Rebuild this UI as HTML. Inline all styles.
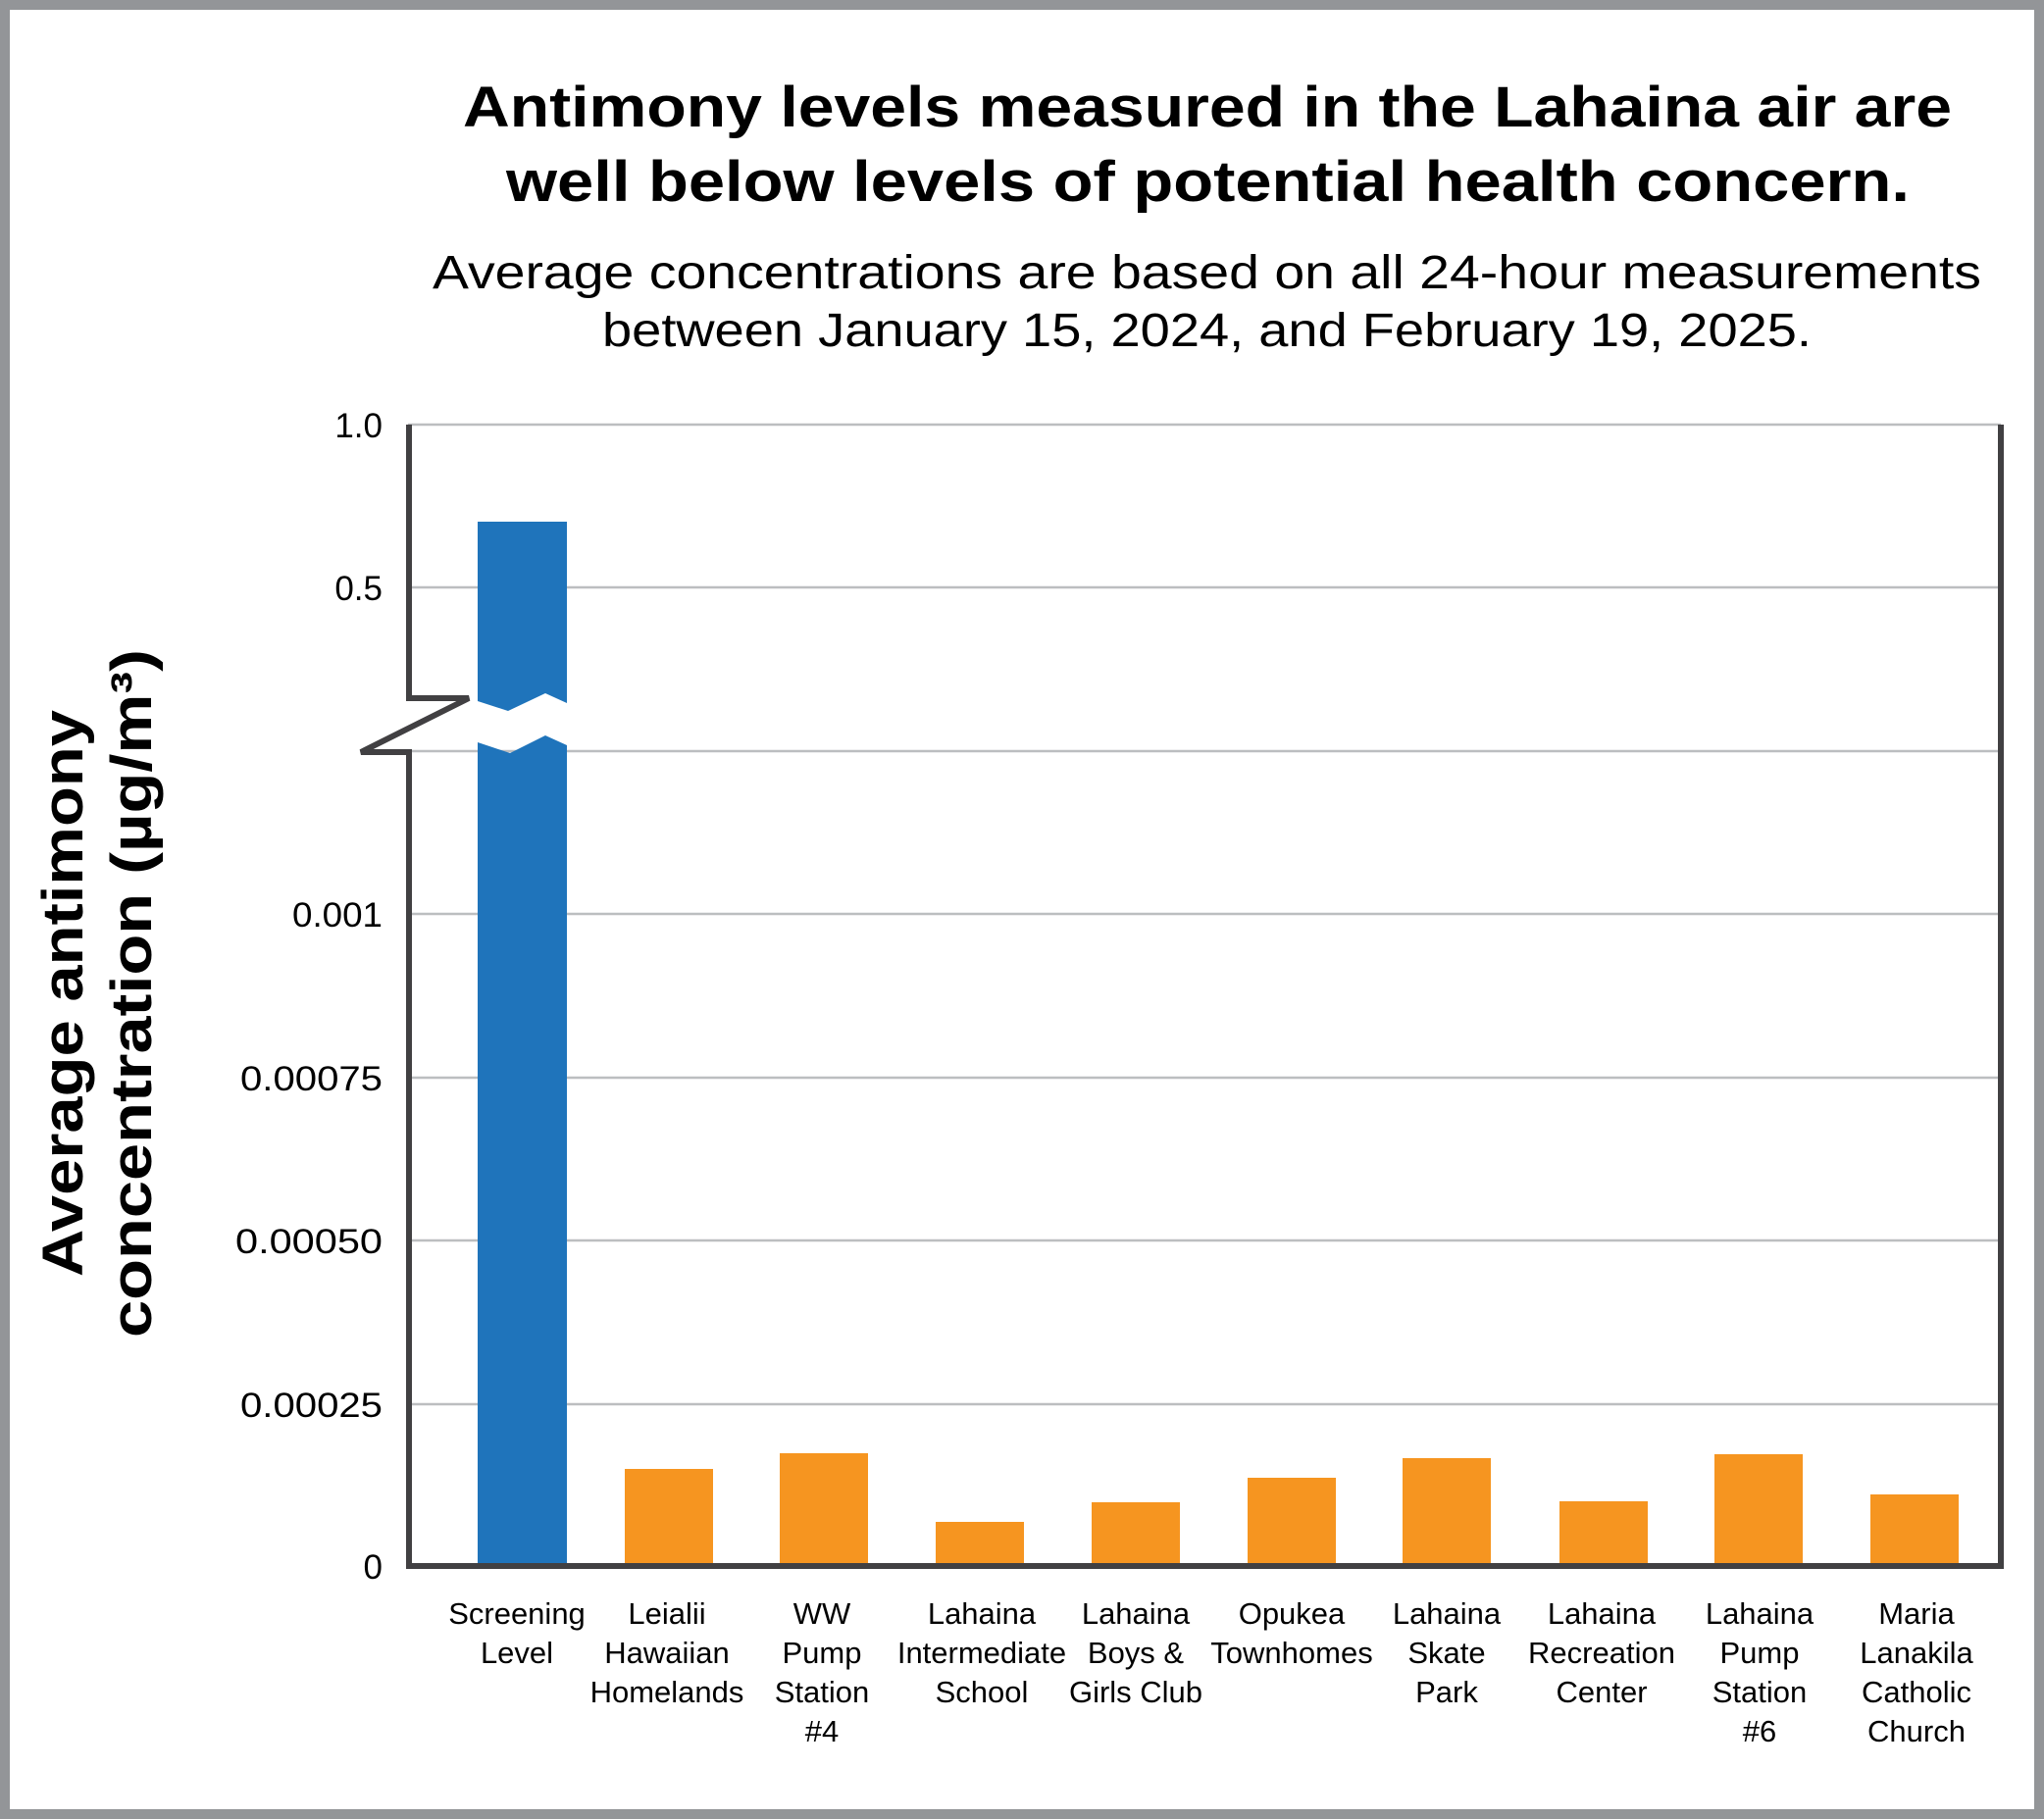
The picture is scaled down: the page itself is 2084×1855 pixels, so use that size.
<!DOCTYPE html>
<html><head><meta charset="utf-8"><style>
html,body{margin:0;padding:0;background:#fff}
svg{display:block}
text{font-family:"Liberation Sans",sans-serif;fill:#000}
</style></head><body>
<svg width="2084" height="1855" viewBox="0 0 2084 1855" xmlns="http://www.w3.org/2000/svg">
<rect x="0" y="0" width="2084" height="1855" fill="#fff"/>
<rect x="5" y="5" width="2074" height="1845" fill="none" stroke="#939598" stroke-width="10"/>
<g font-weight="bold" font-size="58" text-anchor="start">
<text x="472" y="129" textLength="1518" lengthAdjust="spacingAndGlyphs">Antimony levels measured in the Lahaina air are</text>
<text x="516" y="205" textLength="1431" lengthAdjust="spacingAndGlyphs">well below levels of potential health concern.</text>
</g>
<g font-size="48">
<text x="441" y="294" textLength="1579" lengthAdjust="spacingAndGlyphs">Average concentrations are based on all 24-hour measurements</text>
<text x="614" y="353" textLength="1233" lengthAdjust="spacingAndGlyphs">between January 15, 2024, and February 19, 2025.</text>
</g>
<g stroke="#bcbec0" stroke-width="2.5">
<line x1="416" y1="433" x2="2040" y2="433"/>
<line x1="416" y1="599" x2="2040" y2="599"/>
<line x1="416" y1="766" x2="2040" y2="766"/>
<line x1="416" y1="932" x2="2040" y2="932"/>
<line x1="416" y1="1099" x2="2040" y2="1099"/>
<line x1="416" y1="1265" x2="2040" y2="1265"/>
<line x1="416" y1="1432" x2="2040" y2="1432"/>
</g>
<path d="M487,532 H578 V717 L556,707 L518,725 L487,715 Z" fill="#1f74bb"/>
<path d="M487,757 L520,768 L556,750 L578,760 V1597 H487 Z" fill="#1f74bb"/>
<g fill="#f69520">
<rect x="637" y="1498" width="90" height="99"/>
<rect x="795" y="1482" width="90" height="115"/>
<rect x="954" y="1552" width="90" height="45"/>
<rect x="1113" y="1532" width="90" height="65"/>
<rect x="1272" y="1507" width="90" height="90"/>
<rect x="1430" y="1487" width="90" height="110"/>
<rect x="1590" y="1531" width="90" height="66"/>
<rect x="1748" y="1483" width="90" height="114"/>
<rect x="1907" y="1524" width="90" height="73"/>
</g>
<path d="M417,433 V712 H478 L368,767 H417 V1597 H2040 V433" fill="none" stroke="#414042" stroke-width="6"/>
<g font-size="35" text-anchor="end">
<text x="390" y="446">1.0</text>
<text x="390" y="612">0.5</text>
<text x="390" y="945" textLength="92" lengthAdjust="spacingAndGlyphs">0.001</text>
<text x="390" y="1112" textLength="145" lengthAdjust="spacingAndGlyphs">0.00075</text>
<text x="390" y="1278" textLength="150" lengthAdjust="spacingAndGlyphs">0.00050</text>
<text x="390" y="1445" textLength="145" lengthAdjust="spacingAndGlyphs">0.00025</text>
<text x="390" y="1610">0</text>
</g>
<g font-weight="bold" font-size="58" text-anchor="middle">
<text transform="translate(84,1013) rotate(-90)" textLength="578" lengthAdjust="spacingAndGlyphs">Average antimony</text>
<text transform="translate(154,1013) rotate(-90)" textLength="702" lengthAdjust="spacingAndGlyphs">concentration (µg/m³)</text>
</g>
<g font-size="31" text-anchor="middle">
<text x="527" y="1656">Screening</text><text x="527" y="1696">Level</text>
<text x="680" y="1656">Leialii</text><text x="680" y="1696">Hawaiian</text><text x="680" y="1736">Homelands</text>
<text x="838" y="1656">WW</text><text x="838" y="1696">Pump</text><text x="838" y="1736">Station</text><text x="838" y="1776">#4</text>
<text x="1001" y="1656">Lahaina</text><text x="1001" y="1696">Intermediate</text><text x="1001" y="1736">School</text>
<text x="1158" y="1656">Lahaina</text><text x="1158" y="1696">Boys &amp;</text><text x="1158" y="1736">Girls Club</text>
<text x="1317" y="1656">Opukea</text><text x="1317" y="1696">Townhomes</text>
<text x="1475" y="1656">Lahaina</text><text x="1475" y="1696">Skate</text><text x="1475" y="1736">Park</text>
<text x="1633" y="1656">Lahaina</text><text x="1633" y="1696">Recreation</text><text x="1633" y="1736">Center</text>
<text x="1794" y="1656">Lahaina</text><text x="1794" y="1696">Pump</text><text x="1794" y="1736">Station</text><text x="1794" y="1776">#6</text>
<text x="1954" y="1656">Maria</text><text x="1954" y="1696">Lanakila</text><text x="1954" y="1736">Catholic</text><text x="1954" y="1776">Church</text>
</g>
</svg>
</body></html>
